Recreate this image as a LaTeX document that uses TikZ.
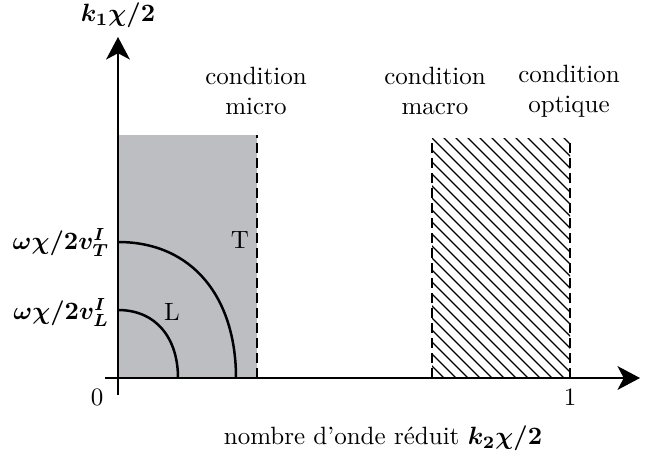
\documentclass[tikz,border=0pt]{standalone}
\usepackage{amsmath}
\usepackage{bm}
\usetikzlibrary{arrows.meta}
\definecolor{zonegris}{RGB}{189,190,194}

\begin{document}
\begin{tikzpicture}[x=0.4pt,y=0.4pt,line width=0.9pt,>={Stealth[length=9pt,width=9.5pt,inset=2.5pt]},
  borne/.style={dash pattern=on 4pt off 2pt,line width=1.1pt},
  courbe/.style={line width=1pt},
  etiq/.style={align=center,font=\normalsize}]
  \useasboundingbox (-118,-83) rectangle (527,378);
  \coordinate (O) at (0,0);
  % zone micro (grise)
  \fill[zonegris] (0,0) rectangle (139,243);
  \draw[borne] (139,0) -- (139,243);
  % zone hachuree
  \begin{scope}
    \clip (314,0) rectangle (452,240);
    \foreach \s in {0,12,...,400}
       \draw[line width=0.5pt] (314+\s-250,250) -- ++(260,-260);
  \end{scope}
  \draw[borne] (314,0) -- (314,240);
  \draw[borne] (452,0) -- (452,240);
  % axes
  \coordinate (xdeb) at (-13,0); \coordinate (xfin) at (522,0);
  \coordinate (ydeb) at (0,-17); \coordinate (yfin) at (0,341);
  \draw[->] (xdeb) -- (xfin);
  \draw[->] (ydeb) -- (yfin);
  \node (k1) at (0,363) {$\bm{k_1\chi/2}$};
  \node (zero) at (-21,-19) {$0$};
  \node (un) at (452,-19) {$1$};
  \node (k2) at (265,-60) {nombre d'onde r\'eduit $\bm{k_2\chi/2}$};
  % courbes T et L
  \coordinate (T0) at (0,136); \coordinate (T1) at (118,0);
  \coordinate (L0) at (0,68);  \coordinate (L1) at (60,0);
  \draw[courbe] (T0) .. controls (75,136) and (118,80) .. (T1);
  \draw[courbe] (L0) .. controls (38,68) and (60,40) .. (L1);
  \node (T) at (122,138) {T};
  \node (L) at (54,66) {L};
  \node[anchor=east,inner sep=1pt] (vT) at (-5,136) {$\bm{\omega\chi/2v_T^I}$};
  \node[anchor=east,inner sep=1pt] (vL) at (-5,66) {$\bm{\omega\chi/2v_L^I}$};
  % conditions
  \node[etiq] (micro) at (138,287) {condition\\micro};
  \node[etiq] (macro) at (317,287) {condition\\macro};
  \node[etiq] (optique) at (451,287) {condition\\optique};
\end{tikzpicture}
\end{document}
